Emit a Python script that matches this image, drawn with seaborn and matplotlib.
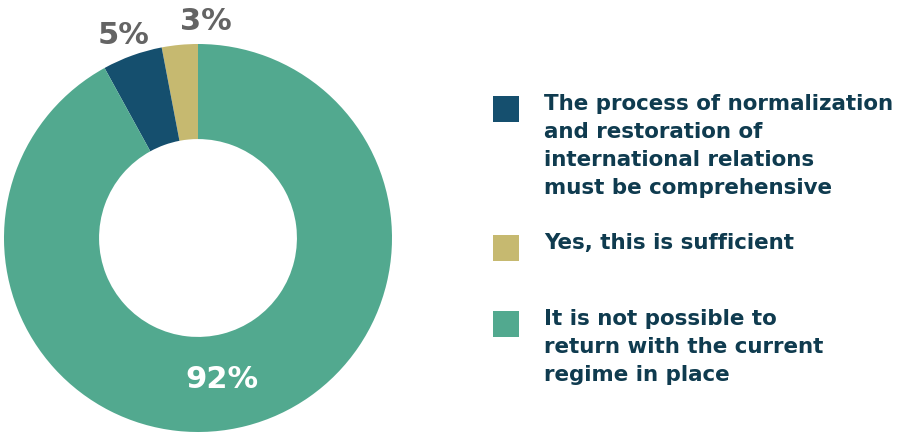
import matplotlib
matplotlib.use("Agg")
import matplotlib.pyplot as plt
from matplotlib.patches import Rectangle
import seaborn as sns

# Survey answers, in drawing order (counter-clockwise from 12 o'clock)
categories = [
    "Yes, this is sufficient",
    "The process of normalization\nand restoration of\ninternational relations\nmust be comprehensive",
    "It is not possible to\nreturn with the current\nregime in place",
]
shares = [3, 5, 92]
share_labels = ["3%", "5%", "92%"]
colors = ["#C6B970", "#154F6E", "#52A98F"]

# Legend order, top to bottom
legend_order = [1, 0, 2]

sns.set_theme(style="white")
plt.rcParams["font.family"] = ["DejaVu Sans"]

W, H = 898, 435
fig = plt.figure(figsize=(W / 100, H / 100), dpi=100)

# Donut axes: centre (198, 239) px, radius 194 px
cx, cy, r = 198, 239, 194
ax = fig.add_axes([(cx - r) / W, (H - cy - r) / H, 2 * r / W, 2 * r / H])
wedges, _ = ax.pie(
    shares,
    colors=colors,
    startangle=90,
    counterclock=True,
    radius=1.0,
    wedgeprops=dict(width=0.49, linewidth=0),
)
ax.set_xlim(-1, 1)
ax.set_ylim(-1, 1)
ax.set_aspect("equal")
ax.axis("off")

# Percentage labels
label_pos = {0: (206, 21), 1: (124, 36), 2: (222, 380)}
label_col = {0: "#646464", 1: "#646464", 2: "white"}
for i, txt in enumerate(share_labels):
    px, py = label_pos[i]
    fig.text(px / W, 1 - py / H, txt, ha="center", va="center",
             fontsize=22, fontweight="bold", color=label_col[i])

# Legend: coloured squares with wrapped labels
text_color = "#0F3B4F"
rows_top = {1: 97, 0: 236, 2: 312}
for idx in legend_order:
    top = rows_top[idx]
    fig.add_artist(Rectangle((493 / W, 1 - (top + 26) / H), 26 / W, 26 / H,
                             transform=fig.transFigure, color=colors[idx], lw=0))
    fig.text(544 / W, 1 - (top - 3) / H, categories[idx], ha="left", va="top",
             fontsize=15.4, fontweight="bold", color=text_color, linespacing=1.5)

fig.savefig("out.png", dpi=100, facecolor="white")
